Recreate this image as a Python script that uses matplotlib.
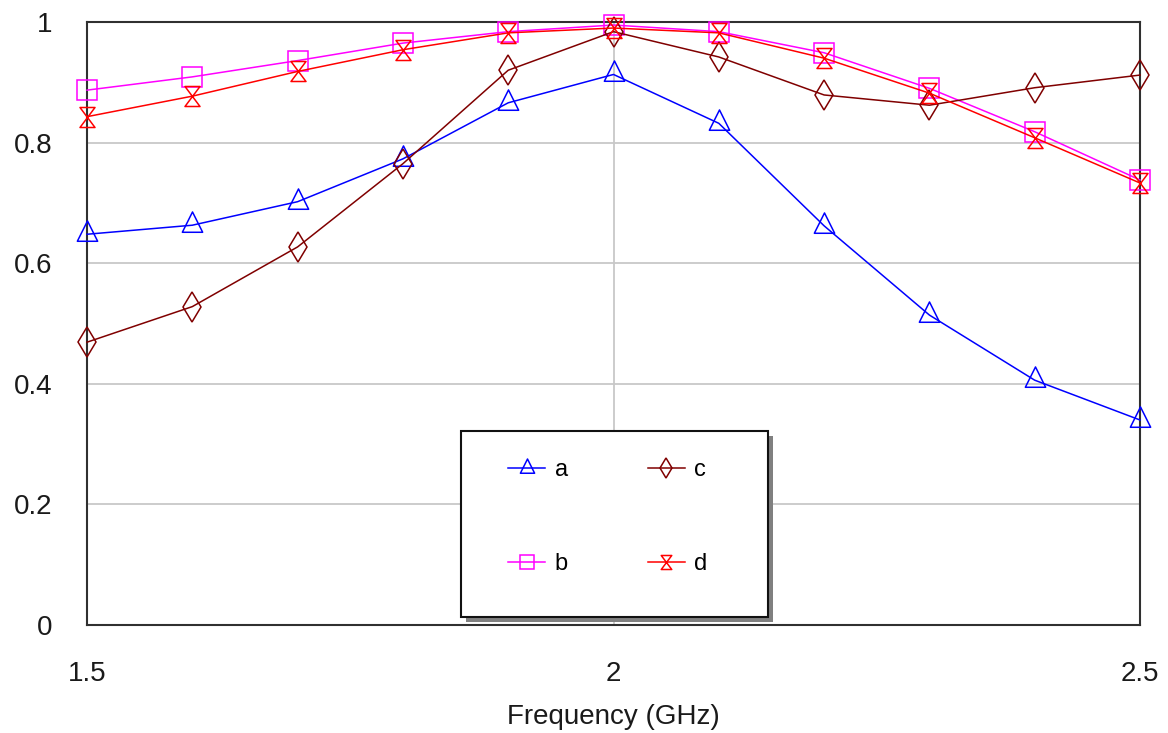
import matplotlib
matplotlib.use("Agg")
import matplotlib.pyplot as plt
from matplotlib.path import Path
from matplotlib.patches import Rectangle

plt.rcParams['font.family'] = ['Liberation Sans', 'DejaVu Sans']

# Frequency sweep (GHz) and the four responses
freq = [1.5, 1.6, 1.7, 1.8, 1.9, 2.0, 2.1, 2.2, 2.3, 2.4, 2.5]
series_a = [0.648, 0.663, 0.702, 0.773, 0.866, 0.913, 0.832, 0.662, 0.514, 0.406, 0.340]
series_b = [0.887, 0.909, 0.936, 0.965, 0.984, 0.995, 0.984, 0.949, 0.890, 0.818, 0.738]
series_c = [0.469, 0.528, 0.627, 0.765, 0.920, 0.984, 0.942, 0.879, 0.862, 0.891, 0.912]
series_d = [0.843, 0.877, 0.918, 0.954, 0.982, 0.990, 0.982, 0.940, 0.882, 0.808, 0.733]
labels = ['a', 'b', 'c', 'd']

x_ticks = [1.5, 2.0, 2.5]
x_tick_labels = ['1.5', '2', '2.5']
y_ticks = [0, 0.2, 0.4, 0.6, 0.8, 1.0]
y_tick_labels = ['0', '0.2', '0.4', '0.6', '0.8', '1']

# Marker shapes: triangle anchored at its centroid, and a bow-tie
tri = Path([(0, 1), (-0.75, -0.5), (0.75, -0.5), (0, 1)],
           [Path.MOVETO, Path.LINETO, Path.LINETO, Path.CLOSEPOLY])
bowtie = Path([(-0.75, 1), (0.75, 1), (0, 0), (-0.75, 1),
               (0, 0), (-0.75, -1), (0.75, -1), (0, 0)],
              [Path.MOVETO, Path.LINETO, Path.LINETO, Path.CLOSEPOLY,
               Path.MOVETO, Path.LINETO, Path.LINETO, Path.CLOSEPOLY])

fig = plt.figure(figsize=(11.68, 7.33), dpi=100)
ax = fig.add_axes([87 / 1168, 1 - 625 / 733, (1140 - 87) / 1168, (625 - 22) / 733])

lw = 1.1
styles = [
    (series_a, '#0000ff', tri, 19.5),
    (series_b, '#ff00ff', 's', 13.7),
    (series_c, '#800000', 'd', 15.0),
    (series_d, '#ff0000', bowtie, 14.4),
]
handles = []
for (vals, color, mk, ms), lab in zip(styles, labels):
    h, = ax.plot(freq, vals, color=color, lw=lw, marker=mk, markersize=ms,
                 markerfacecolor='none', markeredgecolor=color,
                 markeredgewidth=lw, label=lab, zorder=3, clip_on=False)
    handles.append(h)

ax.set_xlim(1.5, 2.5)
ax.set_ylim(0, 1)
ax.set_xticks(x_ticks)
ax.set_xticklabels(x_tick_labels)
ax.set_yticks(y_ticks)
ax.set_yticklabels(y_tick_labels)
ax.tick_params(axis='both', length=0, labelsize=20, colors='#1a1a1a')
ax.tick_params(axis='x', pad=26)
ax.tick_params(axis='y', pad=25)
ax.grid(True, color='#c8c8c8', lw=1.3, zorder=0)
ax.set_axisbelow(True)
for sp in ax.spines.values():
    sp.set_color('#303030')
    sp.set_linewidth(1.5)
ax.set_xlabel('Frequency (GHz)', fontsize=20, color='#1a1a1a', labelpad=12)

# Legend box with drop shadow
W, H = 1168, 733
bx0, by0, bx1, by1 = 461, 431, 768, 617
shadow = Rectangle(((bx0 + 5) / W, 1 - (by1 + 5) / H), (bx1 - bx0) / W, (by1 - by0) / H,
                   transform=fig.transFigure, facecolor='#808080', edgecolor='none', zorder=5)
frame = Rectangle((bx0 / W, 1 - by1 / H), (bx1 - bx0) / W, (by1 - by0) / H,
                  transform=fig.transFigure, facecolor='white', edgecolor='#111111',
                  lw=1.5, zorder=6)
fig.add_artist(shadow)
fig.add_artist(frame)

leg = fig.legend(handles=handles, labels=labels, ncol=2, frameon=False,
                 loc='upper left', bbox_to_anchor=(508 / W, 1 - 459 / H),
                 fontsize=17, markerscale=0.7, handlelength=1.57,
                 handletextpad=0.4, columnspacing=3.4, labelspacing=3.05,
                 borderpad=0, borderaxespad=0)
leg.set_zorder(7)

fig.savefig('out.png', dpi=100, facecolor='white')
